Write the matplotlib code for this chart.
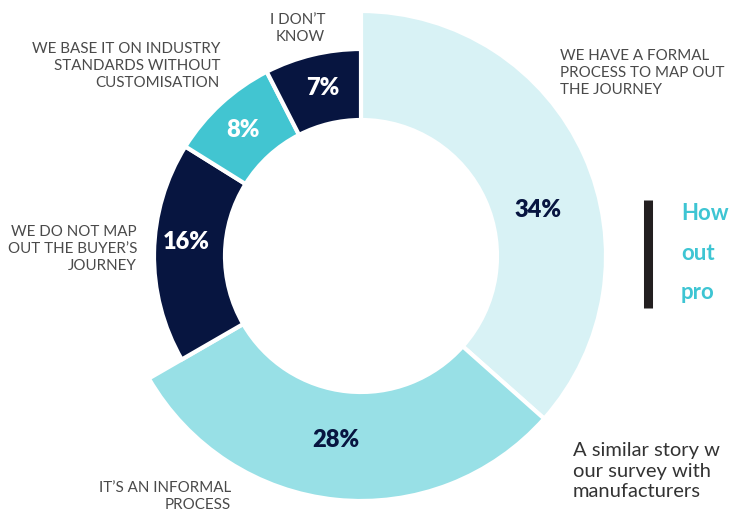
import matplotlib.pyplot as plt

plt.rcParams["font.family"] = ["Lato", "DejaVu Sans"]

categories = [
    "WE HAVE A FORMAL\nPROCESS TO MAP OUT\nTHE JOURNEY",
    "IT\u2019S AN INFORMAL\nPROCESS",
    "WE DO NOT MAP\nOUT THE BUYER\u2019S\nJOURNEY",
    "WE BASE IT ON INDUSTRY\nSTANDARDS WITHOUT\nCUSTOMISATION",
    "I DON\u2019T\nKNOW",
]
values = [34, 28, 16, 8, 7]
colors = ["#d8f2f5", "#98e0e6", "#071540", "#42c5d1", "#071540"]
pct_colors = ["#071540", "#071540", "white", "white", "white"]

W, H = 730, 515
cx, cy = 361, H - 256
r_big, r_small, r_in = 245, 207, 136

fig = plt.figure(figsize=(W / 100, H / 100), dpi=100)
ax = fig.add_axes([0, 0, 1, 1])

wedges, _ = ax.pie(
    values,
    colors=colors,
    startangle=90,
    counterclock=False,
    radius=r_big,
    center=(cx, cy),
    wedgeprops=dict(width=r_big - r_in, edgecolor="white", linewidth=3),
)
# the two big answers stick out further than the rest
for w, v in zip(wedges, values):
    if v < 20:
        w.set_radius(r_small)
        w.set_width(r_small - r_in)

ax.set_xlim(0, W)
ax.set_ylim(0, H)
ax.set_aspect("equal")
ax.axis("off")

# percentage labels inside the ring
pct_pos = [(538, 210), (336, 440), (186, 242), (243, 130), (323, 88)]
for v, (x, y), c in zip(values, pct_pos, pct_colors):
    ax.text(x, H - y, f"{v}%", color=c, fontsize=17, fontweight="heavy",
            ha="center", va="center")

# category labels around the ring
cat_pos = [(560, 49, "left"), (231, 481, "right"), (137, 225, "right"),
           (220, 42, "right"), (325, 13, "right")]
for lab, (x, y, ha) in zip(categories, cat_pos):
    ax.text(x, H - y, lab, color="#4a4a4a", fontsize=10.9, fontweight="normal",
            ha=ha, va="top", linespacing=1.27, multialignment=ha)

# surrounding page content (cut off by the page edge in the original)
ax.plot([648, 648], [H - 200, H - 308], color="#231f20", lw=6.5,
        solid_capstyle="butt")
ax.text(681, H - 203, "How\nout\npro", color="#3ec5d3", fontsize=16,
        fontweight="bold", ha="left", va="top", linespacing=2.1)
ax.text(573, H - 442, "A similar story w\nour survey with\nmanufacturers",
        color="#333333", fontsize=14.5, fontweight="normal", ha="left",
        va="top", linespacing=1.25)

fig.savefig("out.png", dpi=100)
